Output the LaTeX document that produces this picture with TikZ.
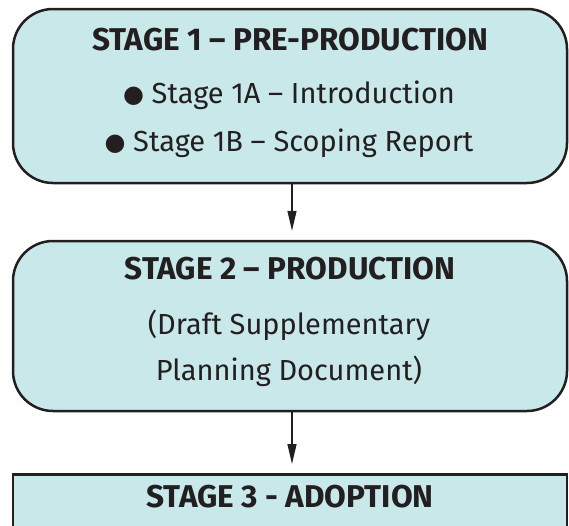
\documentclass[tikz,border=0pt]{standalone}
\usepackage{fontspec}
\setmainfont{Fira Sans}
\newfontfamily\symfont{DejaVu Sans}
\usetikzlibrary{arrows.meta}
\definecolor{boxfill}{RGB}{200,232,234}
\definecolor{boxline}{RGB}{35,31,32}
\newcommand{\blt}{\raisebox{1pt}{\symfont\fontsize{24}{28}\selectfont ●}}

\begin{document}
\begin{tikzpicture}[x=1pt, y=-1pt,
    stagebox/.style={draw=boxline, fill=boxfill, line width=2.5pt, rounded corners=40pt,
        minimum width=554pt},
    title/.style={font=\fontsize{31.5}{36}\selectfont\bfseries, text=boxline},
    body/.style={font=\fontsize{29}{34}\selectfont, text=boxline},
    flow/.style={-{Triangle[width=9pt,length=20pt]}, line width=1.3pt, draw=boxline, shorten >=9pt}]
    \useasboundingbox (0,0) rectangle (569,525);
    \clip (0,0) rectangle (569,525);

    \node[stagebox, minimum height=174pt] (s1) at (290,96) {};
    \node[title] (t1) at (290,40) {STAGE 1 – PRE-PRODUCTION};
    \node[body] (b1a) at (289,95) {\blt\ Stage 1A – Introduction};
    \node[body] (b1b) at (289,143) {\blt\ Stage 1B – Scoping Report};

    \node[stagebox, minimum height=170pt] (s2) at (290,326) {};
    \node[title] (t2) at (290,269) {STAGE 2 – PRODUCTION};
    \node[body] (b2a) at (289,325) {(Draft Supplementary};
    \node[body] (b2b) at (289,371) {Planning Document)};

    % last stage runs off the page
    \node[stagebox, rounded corners=0pt, minimum height=120pt, anchor=north] (s3) at (290,473) {};
    \node[title] (t3) at (290,497) {STAGE 3 - ADOPTION};

    \draw[flow] ([xshift=2pt]s1.south) -- ([xshift=2pt]s2.north);
    \draw[flow] ([xshift=2pt]s2.south) -- ([xshift=2pt]s3.north);
\end{tikzpicture}
\end{document}
